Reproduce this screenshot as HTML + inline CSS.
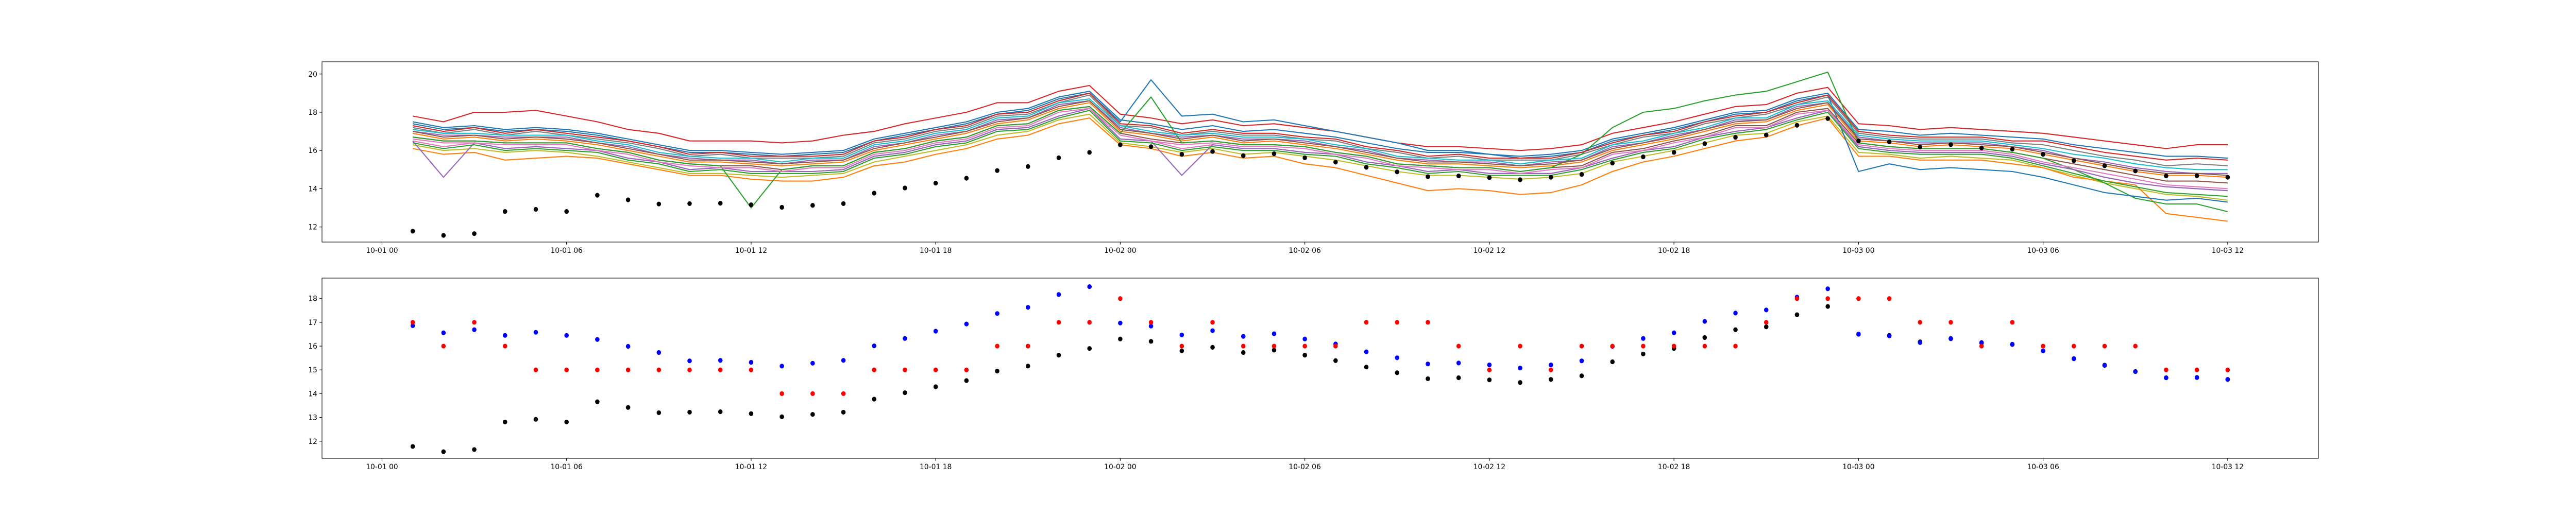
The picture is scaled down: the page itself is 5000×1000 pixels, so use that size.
<!DOCTYPE html>
<html><head><meta charset="utf-8"><title>Ensemble forecast chart</title>
<style>
html,body{margin:0;padding:0;background:#fff;}
svg{display:block;font-family:"DejaVu Sans","Liberation Sans",sans-serif;}
</style></head>
<body>
<svg id="chart" width="5000" height="1000" viewBox="0 0 5000 1000" xmlns="http://www.w3.org/2000/svg">
<rect width="5000" height="1000" fill="#fff"/>
<g id="top-plot"></g>
<g id="bottom-plot"></g>
</svg>
<script>
const hours = [1,2,3,4,5,6,7,8,9,10,11,12,13,14,15,16,17,18,19,20,21,22,23,24,25,26,27,28,29,30,31,32,33,34,35,36,37,38,39,40,41,42,43,44,45,46,47,48,49,50,51,52,53,54,55,56,57,58,59,60];
const xTickHours = [0,6,12,18,24,30,36,42,48,54,60];
const xTickLabels = ["10-01 00","10-01 06","10-01 12","10-01 18","10-02 00","10-02 06","10-02 12","10-02 18","10-03 00","10-03 06","10-03 12"];
const topYTicks = [12,14,16,18,20];
const bottomYTicks = [12,13,14,15,16,17,18];

const observed = [11.78,11.56,11.65,12.81,12.92,12.81,13.66,13.42,13.2,13.22,13.24,13.16,13.03,13.13,13.22,13.77,14.04,14.29,14.55,14.95,15.16,15.62,15.9,16.3,16.2,15.8,15.95,15.73,15.83,15.62,15.39,15.12,14.88,14.63,14.67,14.58,14.47,14.6,14.75,15.34,15.67,15.9,16.36,16.69,16.81,17.32,17.67,16.5,16.45,16.18,16.31,16.13,16.07,15.8,15.47,15.2,14.93,14.67,14.68,14.6];
const ensembleMean = [16.86,16.56,16.69,16.45,16.58,16.45,16.28,15.99,15.73,15.38,15.4,15.32,15.16,15.28,15.4,16.01,16.32,16.63,16.93,17.37,17.63,18.17,18.5,16.97,16.84,16.47,16.65,16.41,16.52,16.3,16.09,15.76,15.51,15.25,15.29,15.21,15.08,15.21,15.38,15.99,16.32,16.56,17.04,17.39,17.52,18.06,18.41,16.51,16.43,16.15,16.32,16.15,16.08,15.8,15.47,15.19,14.93,14.67,14.68,14.6];
const roundedForecast = [17,16,17,16,15,15,15,15,15,15,15,15,14,14,14,15,15,15,15,16,16,17,17,18,17,16,17,16,16,16,16,17,17,17,16,15,16,15,16,16,16,16,16,16,17,18,18,18,18,17,17,16,17,16,16,16,16,15,15,15];

const member01 = [17.8,17.5,18.0,18.0,18.1,17.8,17.5,17.1,16.9,16.5,16.5,16.5,16.4,16.5,16.8,17.0,17.4,17.7,18.0,18.5,18.5,19.1,19.4,17.9,17.7,17.4,17.6,17.3,17.4,17.2,17.0,16.7,16.4,16.2,16.2,16.1,16.0,16.1,16.3,16.9,17.2,17.5,17.9,18.3,18.4,19.0,19.3,17.4,17.3,17.1,17.2,17.1,17.0,16.9,16.7,16.5,16.3,16.1,16.3,16.3];
const member02 = [17.5,17.2,17.3,17.1,17.2,17.1,16.9,16.6,16.3,16.0,16.0,15.9,15.8,15.9,16.0,16.6,16.9,17.2,17.5,18.0,18.2,18.8,19.1,17.6,17.4,17.1,17.3,17.0,17.1,16.9,16.7,16.4,16.1,15.9,15.9,15.8,15.7,15.8,16.0,16.6,16.9,17.2,17.6,18.0,18.1,18.7,19.0,17.1,17.0,16.8,16.9,16.8,16.7,16.6,16.3,16.1,15.9,15.7,15.7,15.6];
const member03 = [17.2,16.9,17.1,16.8,17.0,16.8,16.6,16.4,16.1,15.7,15.8,15.6,15.6,15.6,15.7,16.4,16.6,17.0,17.2,17.8,17.9,18.5,18.9,17.3,17.2,16.8,17.0,16.8,16.8,16.6,16.5,16.1,15.9,15.6,15.7,15.5,15.5,15.5,15.8,16.3,16.7,16.9,17.4,17.7,17.9,18.4,18.8,16.9,16.7,16.6,16.6,16.6,16.4,16.3,16.0,15.7,15.5,15.2,15.3,15.2];
const member04 = [17.0,16.8,16.8,16.7,16.7,16.7,16.4,16.2,15.8,15.6,15.5,15.5,15.3,15.5,15.5,16.2,16.4,16.8,17.0,17.6,17.7,18.4,18.6,17.2,16.9,16.7,16.8,16.6,16.6,16.5,16.2,16.0,15.6,15.5,15.4,15.4,15.2,15.4,15.5,16.2,16.4,16.8,17.1,17.6,17.6,18.3,18.5,16.7,16.5,16.4,16.4,16.4,16.2,16.0,15.6,15.4,15.1,14.9,14.8,14.8];
const member05 = [16.9,16.6,16.7,16.5,16.6,16.5,16.3,16.0,15.7,15.4,15.4,15.3,15.2,15.3,15.4,16.0,16.3,16.6,16.9,17.4,17.6,18.2,18.5,17.0,16.8,16.5,16.7,16.4,16.5,16.3,16.1,15.8,15.5,15.3,15.3,15.2,15.1,15.2,15.4,16.0,16.3,16.6,17.0,17.4,17.5,18.1,18.4,16.5,16.4,16.2,16.3,16.2,16.1,15.8,15.5,15.2,14.9,14.7,14.7,14.6];
const member06 = [16.7,16.5,16.5,16.4,16.4,16.4,16.1,15.9,15.5,15.3,15.2,15.2,15.0,15.2,15.2,15.9,16.1,16.5,16.7,17.3,17.4,18.1,18.3,16.9,16.6,16.4,16.5,16.3,16.3,16.2,15.9,15.7,15.3,15.2,15.1,15.1,14.9,15.1,15.2,15.9,16.1,16.5,16.8,17.3,17.3,18.0,18.2,16.4,16.2,16.1,16.1,16.1,15.9,15.6,15.3,15.0,14.7,14.4,14.4,14.3];
const member07 = [16.5,16.2,16.4,16.1,16.2,16.1,16.0,15.6,15.4,15.0,15.1,14.9,14.9,14.9,15.0,15.7,15.9,16.3,16.5,17.1,17.2,17.8,18.2,16.6,16.5,16.1,16.3,16.1,16.1,15.9,15.8,15.4,15.2,14.9,15.0,14.8,14.8,14.8,15.1,15.6,16.0,16.2,16.7,17.0,17.2,17.7,18.1,16.2,16.0,15.9,15.9,15.9,15.7,15.3,15.0,14.6,14.3,14.1,14.0,13.9];
const member08 = [16.3,16.0,16.1,15.9,16.0,15.9,15.7,15.4,15.1,14.8,14.8,14.7,14.6,14.7,14.8,15.4,15.7,16.0,16.3,16.8,17.0,17.6,17.9,16.4,16.2,15.9,16.1,15.8,15.9,15.7,15.5,15.2,14.9,14.7,14.7,14.6,14.5,14.6,14.8,15.4,15.7,16.0,16.4,16.8,16.9,17.5,17.8,15.9,15.8,15.6,15.7,15.6,15.5,15.1,14.7,14.3,14.0,13.7,13.6,13.4];
const member09 = [16.1,15.8,15.9,15.5,15.6,15.7,15.6,15.3,15.0,14.7,14.7,14.5,14.4,14.4,14.6,15.2,15.4,15.8,16.1,16.6,16.8,17.4,17.7,16.3,16.1,15.7,15.9,15.6,15.7,15.3,15.1,14.7,14.3,13.9,14.0,13.9,13.7,13.8,14.2,14.9,15.4,15.7,16.1,16.5,16.7,17.3,17.7,15.7,15.7,15.5,15.5,15.5,15.3,15.1,14.6,14.4,14.2,12.7,12.5,12.3];
const member10 = [16.7,16.5,16.5,16.4,16.4,16.4,16.1,15.9,15.5,15.3,15.2,13.0,15.0,15.2,15.2,15.9,16.1,16.5,16.7,17.3,17.4,18.1,18.3,16.9,18.8,16.4,16.5,16.3,16.3,16.2,15.9,15.7,15.3,15.2,15.1,15.1,14.9,15.1,15.8,17.2,18.0,18.2,18.6,18.9,19.1,19.6,20.1,16.4,16.2,16.1,16.1,16.1,15.9,15.6,15.0,14.3,13.5,13.2,13.2,12.8];
const member11 = [16.5,14.6,16.4,16.1,16.2,16.1,16.0,15.6,15.4,15.0,15.1,14.9,14.9,14.9,15.0,15.7,15.9,16.3,16.5,17.1,17.2,17.8,18.2,16.6,16.5,14.7,16.3,16.1,16.1,15.9,15.8,15.4,15.2,14.9,15.0,14.8,14.8,14.8,15.1,15.6,16.0,16.2,16.7,17.0,17.2,17.7,18.1,16.2,16.0,15.9,15.9,15.9,15.7,15.3,15.0,14.6,14.3,14.1,14.0,13.9];
const member12 = [17.4,17.1,17.2,17.0,17.1,17.0,16.8,16.5,16.2,15.9,15.9,15.8,15.7,15.8,15.9,16.5,16.8,17.1,17.4,17.9,18.1,18.7,19.0,17.5,19.7,17.8,17.9,17.5,17.6,17.3,17.0,16.7,16.4,16.0,16.0,15.8,15.6,15.7,15.9,16.5,16.8,17.1,17.5,17.9,18.0,18.6,18.9,14.9,15.3,15.0,15.1,15.0,14.9,14.6,14.2,13.8,13.6,13.4,13.5,13.3];
const member13 = [17.1,16.9,16.9,16.8,16.8,16.8,16.5,16.3,15.9,15.7,15.6,15.6,15.4,15.6,15.6,16.3,16.5,16.9,17.1,17.7,17.8,18.5,18.7,17.3,17.0,16.8,16.9,16.7,16.7,16.6,16.3,16.1,15.7,15.6,15.5,15.5,15.3,15.5,15.6,16.3,16.5,16.9,17.2,17.7,17.7,18.4,18.6,16.8,16.6,16.5,16.5,16.5,16.3,16.1,15.8,15.6,15.3,15.1,15.0,15.0];
const member14 = [16.6,16.4,16.4,16.3,16.3,16.3,16.0,15.8,15.4,15.2,15.1,15.1,14.9,15.1,15.1,15.8,16.0,16.4,16.6,17.2,17.3,18.0,18.2,16.8,16.5,16.3,16.4,16.2,16.2,16.1,15.8,15.6,15.2,15.1,15.0,15.0,14.8,15.0,15.1,15.8,16.0,16.4,16.7,17.2,17.2,17.9,18.1,16.3,16.1,16.0,16.0,16.0,15.8,15.4,15.1,14.8,14.5,14.2,14.1,14.0];
const member15 = [16.4,16.1,16.3,16.0,16.1,16.0,15.9,15.5,15.3,14.9,15.0,14.8,14.8,14.8,14.9,15.6,15.8,16.2,16.4,17.0,17.1,17.7,18.1,16.5,16.4,16.0,16.2,16.0,16.0,15.8,15.7,15.3,15.1,14.8,14.9,14.7,14.7,14.7,15.0,15.5,15.9,16.1,16.6,16.9,17.1,17.6,18.0,16.1,15.9,15.8,15.8,15.8,15.6,15.2,14.8,14.4,14.1,13.8,13.7,13.6];
const member16 = [17.3,17.0,17.2,16.9,17.1,16.9,16.7,16.5,16.2,15.8,15.9,15.7,15.7,15.7,15.8,16.5,16.7,17.1,17.3,17.9,18.0,18.6,19.0,17.4,17.3,16.9,17.1,16.9,16.9,16.7,16.6,16.2,16.0,15.7,15.8,15.6,15.6,15.6,15.9,16.4,16.8,17.0,17.5,17.8,18.0,18.5,18.9,17.0,16.8,16.7,16.7,16.7,16.5,16.5,16.2,15.9,15.7,15.5,15.6,15.5];
const member17 = [17.0,16.7,16.8,16.6,16.7,16.6,16.4,16.1,15.8,15.5,15.5,15.4,15.3,15.4,15.5,16.1,16.4,16.7,17.0,17.5,17.7,18.3,18.6,17.1,16.9,16.6,16.8,16.5,16.6,16.4,16.2,15.9,15.6,15.4,15.4,15.3,15.2,15.3,15.5,16.1,16.4,16.7,17.1,17.5,17.6,18.2,18.5,16.6,16.5,16.3,16.4,16.3,16.2,15.9,15.6,15.3,15.0,14.8,14.8,14.7];
const members = [member01,member02,member03,member04,member05,member06,member07,member08,member09,member10,member11,member12,member13,member14,member15,member16,member17];

const NS = "http://www.w3.org/2000/svg";
const palette = ["#1f77b4","#ff7f0e","#2ca02c","#d62728","#9467bd","#8c564b","#e377c2","#7f7f7f","#bcbd22","#17becf"];
const memberColorIdx = [3,0,7,4,1,5,6,8,1,2,4,0,9,6,2,3,5];

const X0 = 625, X1 = 4500, HMIN = -1.95, HMAX = 62.95;
function xScale(h){ return X0 + (h - HMIN) / (HMAX - HMIN) * (X1 - X0); }
function yTop(v){ return 470 - (v - 11.21) / (20.64 - 11.21) * 350; }
function yBottom(v){ return 890 - (v - 11.28) / (18.86 - 11.28) * 350; }

function mk(tag, attrs, parent){
  const el = document.createElementNS(NS, tag);
  for (const k in attrs) el.setAttribute(k, attrs[k]);
  parent.appendChild(el);
  return el;
}

function drawAxes(g, top, bottom, yTicks, yFn, prefix){
  xTickHours.forEach((h, i) => {
    const x = xScale(h);
    const t = mk("line", {x1:x, x2:x, y1:bottom, y2:bottom+4.9, stroke:"#000", "stroke-width":1.1}, g);
    
    
    const lb = mk("text", {x:x, y:bottom+21, "text-anchor":"middle", "font-size":"13.9", fill:"#000"}, g);
    lb.textContent = xTickLabels[i];
    
    
  });
  yTicks.forEach(v => {
    const y = yFn(v);
    const t = mk("line", {x1:X0-4.9, x2:X0, y1:y, y2:y, stroke:"#000", "stroke-width":1.1}, g);
    
    
    const lb = mk("text", {x:X0-9, y:y+5, "text-anchor":"end", "font-size":"13.9", fill:"#000"}, g);
    lb.textContent = String(v);
    
    
  });
}

function drawFrame(g, top, bottom, prefix){
  const r = mk("rect", {x:X0, y:top, width:X1-X0, height:bottom-top, fill:"none", stroke:"#000", "stroke-width":1.1}, g);
  
  
}

function drawDots(g, values, yFn, color, name){
  values.forEach((v, i) => {
    const c = mk("ellipse", {cx:xScale(hours[i]), cy:yFn(v), rx:4.3, ry:4.6, fill:color}, g);
    
    
  });
}

// top panel
const gTop = document.getElementById("top-plot");
members.forEach((m, k) => {
  const d = m.map((v, i) => (i ? "L" : "M") + xScale(hours[i]).toFixed(1) + " " + yTop(v).toFixed(1)).join(" ");
  const p = mk("path", {d:d, fill:"none", stroke:palette[memberColorIdx[k]], "stroke-width":2.1, "stroke-linejoin":"round"}, gTop);
  
  
});
drawDots(gTop, observed, yTop, "#000", "observation-dot");
drawFrame(gTop, 120, 470, "top");
drawAxes(gTop, 120, 470, topYTicks, yTop, "top");

// bottom panel
const gBot = document.getElementById("bottom-plot");
drawDots(gBot, observed, yBottom, "#000", "observation-dot");
drawDots(gBot, ensembleMean, yBottom, "#0000ff", "ensemble-mean-dot");
drawDots(gBot, roundedForecast, yBottom, "#ff0000", "rounded-forecast-dot");
drawFrame(gBot, 540, 890, "bottom");
drawAxes(gBot, 540, 890, bottomYTicks, yBottom, "bottom");
</script>
</body></html>
